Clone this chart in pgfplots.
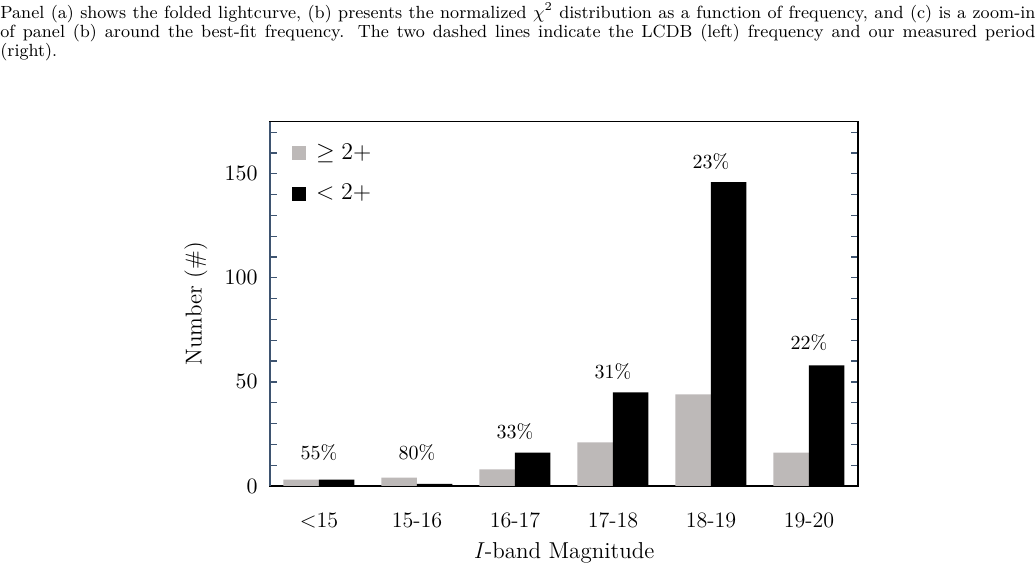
\documentclass[border=0pt]{standalone}
\usepackage{fontspec}
\usepackage{pgfplots}
\pgfplotsset{compat=1.18}
\definecolor{bargray}{RGB}{189,185,184}
\definecolor{axblue}{RGB}{62,84,112}
\begin{document}
\begin{tikzpicture}[x=1pt,y=1pt]
\path[use as bounding box] (-135,-43) rectangle (382.5,243);
\node[anchor=north west, inner sep=0pt, text width=517.5pt, align=justify, font=\fontsize{8.8}{9.5}\selectfont] at (-135,241.8) {Panel (a) shows the folded lightcurve, (b) presents the normalized $\chi^2$ distribution as a function of frequency, and (c) is a zoom-in\linebreak of panel (b) around the best-fit frequency. The two dashed lines indicate the LCDB (left) frequency and our measured period\linebreak (right).};
\begin{axis}[
  scale only axis, width=294pt, height=182.15pt,
  xmin=-0.5, xmax=5.5, ymin=0, ymax=175,
  ybar=0pt, bar width=17.75pt,
  xtick={0,1,2,3,4,5},
  xticklabels={<15,15-16,16-17,17-18,18-19,19-20},
  xtick style={draw=none},
  xticklabel style={anchor=base, yshift=-21pt, font=\fontsize{11}{13}\selectfont},
  ytick={0,50,100,150},
  minor ytick={10,20,30,40,60,70,80,90,110,120,130,140,160,170},
  ytick pos=both, yticklabel pos=left,
  tick align=inside,
  major tick length=3.3pt, minor tick length=3.3pt,
  ytick style={axblue, line width=0.6pt},
  minor tick style={axblue, line width=0.6pt},
  yticklabel style={font=\fontsize{11}{13}\selectfont, inner sep=0pt, xshift=-6pt},
  axis line style={line width=0.8pt},
  xlabel={\textit{I}-band Magnitude},
  xlabel style={at={(axis description cs:0.5,-0.198)}, anchor=base, font=\fontsize{11.5}{13}\selectfont},
  ylabel={Number (\#)},
  ylabel style={at={(axis description cs:-0.126,0.5)}, anchor=center, font=\fontsize{11.5}{13}\selectfont},
  legend cell align=left,
  legend style={at={(axis description cs:0.037,0.951)}, anchor=north west, draw=none, fill=none,
    inner sep=0pt, row sep=7pt, font=\fontsize{11.5}{13}\selectfont},
  clip=false,
]
\addplot[fill=bargray, draw=none, legend image code/.code={\fill[bargray] (0pt,-3.5pt) rectangle (7pt,3.5pt); \path (10pt,0pt);}]
  coordinates {(0,3) (1,4) (2,8) (3,21) (4,44) (5,16)};
\addlegendentry{$\geq 2+$}
\addplot[fill=black, draw=none, legend image code/.code={\fill[black] (0pt,-3.5pt) rectangle (7pt,3.5pt); \path (10pt,0pt);}]
  coordinates {(0,3) (1,1) (2,16) (3,45) (4,146) (5,58)};
\addlegendentry{$< 2+$}
\draw[axblue, line width=0.8pt] (axis description cs:0,0) -- (axis description cs:0,1);
\begin{scope}[every node/.style={font=\fontsize{10}{12}\selectfont, anchor=center}]
\node at (axis cs:0,16) {55\%};
\node at (axis cs:1,16) {80\%};
\node at (axis cs:2,26) {33\%};
\node at (axis cs:3,55) {31\%};
\node at (axis cs:4,156) {23\%};
\node at (axis cs:5,69) {22\%};
\end{scope}
\end{axis}
\end{tikzpicture}
\end{document}
